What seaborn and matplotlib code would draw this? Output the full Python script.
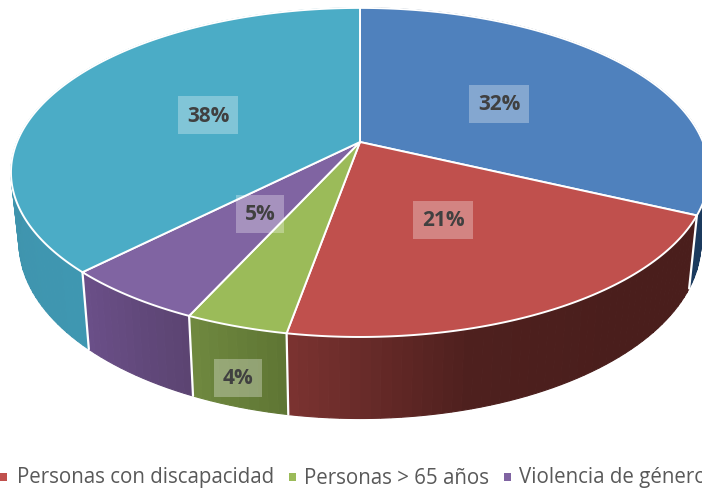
import numpy as np
import seaborn as sns
import matplotlib
matplotlib.use("Agg")
import matplotlib.pyplot as plt
from matplotlib.patches import Rectangle

# the printed labels are kept apart
categories = ["Personas sin hogar", "Personas con discapacidad", "Personas > 65 años",
              "Violencia de género", "Otros"]
values = [32.0, 20.8, 4.0, 5.6, 37.6]
labels = ["32%", "21%", "4%", "5%", "38%"]
top_colors = ["#4f81bd", "#c0504d", "#9bbb59", "#8064a2", "#4bacc6"]
side_colors = [["#1b3a5e", "#1b3a5e"],
               ["#4a1e1c", "#4a1e1c", "#4e201e", "#7a3230"],
               ["#5f7634", "#6f883f"],
               ["#5c4472", "#6a4f88"],
               ["#3f97b1", "#3d8aa2"]]
label_pos = [(499, 105), (443, 221), (238, 379), (260, 215), (208, 116)]
legend_items = [(1, 0, 17), (2, 289, 304), (3, 504, 519)]

sns.set_theme(style="white")
plt.rcParams['font.family'] = ['Open Sans', 'DejaVu Sans']

cx, cy = 360, 143
B, A, k = 343, 158.9, 0.185


def top_xy(theta):
    # circle seen in perspective, theta clockwise from the back
    u, v = np.sin(theta), np.cos(theta)
    w = 1 + k * v
    return cx + B * u / w, cy - A * v / w


def bottom_xy(theta):
    x, y = top_xy(theta)
    return cx + (x - cx) * 0.977, y + 73 + 0.07 * (y - 216)


fig = plt.figure(figsize=(7.02, 4.89), dpi=100)
ax = fig.add_axes([0, 0, 1, 1])
ax.set_xlim(0, 702)
ax.set_ylim(489, 0)
ax.axis("off")

edges = np.cumsum([0] + values) / sum(values) * 2 * np.pi

# side wall, strips so the shading can change along it
for i in range(len(values)):
    n = max(int((edges[i + 1] - edges[i]) * 40), 4)
    pal = sns.blend_palette(side_colors[i], n)
    t = np.linspace(edges[i], edges[i + 1], n + 1)
    for j in range(n):
        tt = np.linspace(t[j], t[j + 1], 6)
        x1, y1 = top_xy(tt)
        x2, y2 = bottom_xy(tt[::-1])
        ax.fill(np.r_[x1, x2], np.r_[y1, y2], facecolor=pal[j], edgecolor=pal[j], lw=0.8, zorder=1)

# white lines between wall pieces
for e in edges[1:5]:
    x1, y1 = top_xy(e)
    x2, y2 = bottom_xy(e)
    ax.plot([x1, x2], [y1, y2], color="white", lw=1.6, zorder=2)

# top face
for i in range(len(values)):
    t = np.linspace(edges[i], edges[i + 1], 200)
    x, y = top_xy(t)
    ax.fill(np.r_[cx, x], np.r_[cy, y], facecolor=top_colors[i], edgecolor="white",
            lw=1.4, joinstyle="round", zorder=3)

for lab, (lx, ly) in zip(labels, label_pos):
    ax.text(lx, ly, lab, ha="center", va="center", fontsize=15, fontweight="bold",
            color="#404040", zorder=5,
            bbox=dict(boxstyle="square,pad=0.4", facecolor="white", edgecolor="none", alpha=0.3))

# legend, runs off both sides of the picture
for idx, mx, tx in legend_items:
    ax.add_patch(Rectangle((mx, 474), 7, 8, color=top_colors[idx], lw=0, zorder=4))
    ax.text(tx, 478, categories[idx], ha="left", va="center", fontsize=14.8, color="#595959",
            clip_on=True, zorder=4)

fig.savefig("out.png", dpi=100)
